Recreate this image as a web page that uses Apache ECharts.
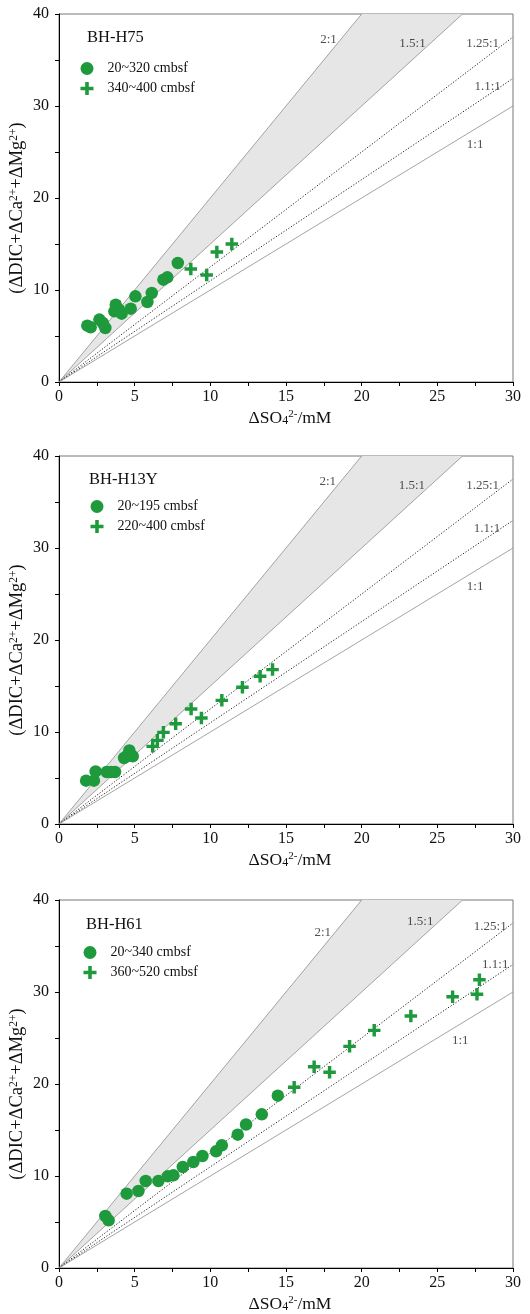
<!DOCTYPE html>
<html><head><meta charset="utf-8">
<script src="https://cdn.jsdelivr.net/npm/echarts@6/dist/echarts.min.js"></script>
<style>html,body{margin:0;padding:0;background:#fff}#c{width:530px;height:1314px}</style>
</head><body><div id="c"></div>
<script>
const panelNames = ['BH-H75', 'BH-H13Y', 'BH-H61'];
const circleNames = ['20~320 cmbsf', '20~195 cmbsf', '20~340 cmbsf'];
const crossNames = ['340~400 cmbsf', '220~400 cmbsf', '360~520 cmbsf'];

const h75Circles = [[1.87,6.12],[2.09,5.94],[2.67,6.78],[2.89,6.41],[3.06,5.87],[3.75,8.4],[3.66,7.68],[3.97,7.86],[4.14,7.43],[4.74,7.97],[5.05,9.31],[5.84,8.7],[6.13,9.67],[6.9,11.12],[7.16,11.38],[7.85,12.93]];
const h75Crosses = [[8.71,12.28],[9.76,11.63],[10.43,14.13],[11.42,15.0]];

const h13yCircles = [[1.79,4.71],[2.31,4.71],[2.42,5.72],[3.15,5.65],[3.44,5.65],[3.7,5.65],[4.3,7.17],[4.47,7.36],[4.65,8.0],[4.87,7.36]];
const h13yCrosses = [[6.19,8.44],[6.5,9.09],[6.9,9.96],[7.71,10.9],[8.73,12.5],[9.41,11.52],[10.76,13.44],[12.12,14.86],[13.29,16.05],[14.11,16.78]];

const h61Circles = [[3.06,5.65],[3.28,5.18],[4.47,8.08],[5.25,8.37],[5.73,9.46],[6.57,9.46],[7.19,9.96],[7.56,10.07],[8.18,10.98],[8.88,11.52],[9.48,12.17],[10.38,12.68],[10.76,13.33],[11.81,14.49],[12.36,15.6],[13.4,16.7],[14.46,18.73]];
const h61Crosses = [[15.54,19.64],[16.86,21.88],[17.88,21.27],[19.2,24.09],[20.83,25.83],[23.25,27.39],[26.01,29.49],[27.62,29.75],[27.78,31.34]];

const ratioNames = ['2:1', '1.5:1', '1.25:1', '1.1:1', '1:1'];
const ratioLineEnds = [[20,40],[26.667,40],[30,37.5],[30,33],[30,30]];
const ratioDotted = [false, false, true, true, false];
const ratioLabelPos = [
  [[17.81,37.2],[23.36,36.74],[27.99,36.74],[28.32,32.07],[27.5,25.8]],
  [[17.76,37.17],[23.32,36.78],[27.99,36.78],[28.28,32.07],[27.5,25.8]],
  [[17.43,36.45],[23.87,37.68],[28.5,37.07],[28.83,32.97],[26.51,24.67]]
];
const xTickLabels = [0,5,10,15,20,25,30];
const yTickLabels = [0,10,20,30,40];

const circleData = [h75Circles, h13yCircles, h61Circles];
const crossData = [h75Crosses, h13yCrosses, h61Crosses];

const GREEN = '#1e9a3c';
const SERIF = '"Liberation Serif","Times New Roman",serif';
const CROSS = 'path://M2.9,0H5.1V2.9H8V5.1H5.1V8H2.9V5.1H0V2.9H2.9Z';

const gridTops = [14, 456, 900];
const titlePos = [[87,29],[89,471],[86,916]];
const legendPos = [[80.5,61.5],[90.5,499.5],[83.5,945.5]];

const grids = [], xAxes = [], yAxes = [], series = [], titles = [], legends = [];
for (let p = 0; p < 3; p++) {
  grids.push({left: 59, top: gridTops[p], width: 454, height: 368, show: true, borderColor: '#777', borderWidth: 1,
    backgroundColor: 'transparent', containLabel: false, outerBoundsMode: 'none'});
  xAxes.push({
    gridIndex: p, type: 'value', min: 0, max: 30, interval: 2.5,
    name: '{n|ΔSO}{sub|4}{sup|2-}{n|/mM}', nameLocation: 'middle', nameGap: 27, nameMoveOverlap: false,
    nameTextStyle: {padding: [0, 0, 0, 8], rich: {
      n: {fontFamily: SERIF, fontSize: 17.5, color: '#111'},
      sub: {fontFamily: SERIF, fontSize: 12, color: '#111', verticalAlign: 'bottom', padding:[6,0,0,0]},
      sup: {fontFamily: SERIF, fontSize: 11, color: '#111', verticalAlign: 'top'}
    }},
    axisLine: {show: true, onZero: false, lineStyle: {color: '#000', width: 1}},
    axisTick: {show: true, length: 4, lineStyle: {color: '#000'}},
    splitLine: {show: false},
    axisLabel: {fontFamily: SERIF, fontSize: 16, color: '#111', margin: 7, showMaxLabel: true, showMinLabel: true,
      formatter: v => xTickLabels.indexOf(v) >= 0 ? String(v) : ''}
  });
  yAxes.push({
    gridIndex: p, type: 'value', min: 0, max: 40, interval: 5,
    name: '{n|(ΔDIC+ΔCa}{s|2+}{n|+ΔMg}{s|2+}{n|)}', nameLocation: 'middle', nameGap: 32, nameMoveOverlap: false,
    nameTextStyle: {padding: [0, 20, 0, 0], rich: {
      n: {fontFamily: SERIF, fontSize: 18.5, color: '#111'},
      s: {fontFamily: SERIF, fontSize: 11.5, color: '#111', verticalAlign: 'top'}
    }},
    axisLine: {show: true, onZero: false, lineStyle: {color: '#000', width: 1}},
    axisTick: {show: true, length: 4, lineStyle: {color: '#000'}},
    splitLine: {show: false},
    axisLabel: {fontFamily: SERIF, fontSize: 16, color: '#111', margin: 10,
      formatter: v => yTickLabels.indexOf(v) >= 0 ? String(v) : ''}
  });
  titles.push({text: panelNames[p], left: titlePos[p][0], top: titlePos[p][1],
    textStyle: {fontFamily: SERIF, fontSize: 16.5, fontWeight: 'normal', color: '#111'}, padding: 0});
  legends.push({
    orient: 'vertical', left: legendPos[p][0], top: legendPos[p][1], padding: 0,
    itemWidth: 13, itemHeight: 13, itemGap: 6,
    textStyle: {fontFamily: SERIF, fontSize: 14, color: '#111', padding: [0,0,0,9]},
    data: [{name: circleNames[p], icon: 'circle'}, {name: crossNames[p], icon: CROSS}]
  });
  series.push({
    type: 'custom', xAxisIndex: p, yAxisIndex: p, silent: true, z: 1,
    data: [[0, 0]],
    renderItem: (params, api) => ({
      type: 'polygon',
      shape: {points: [api.coord([0,0]), api.coord(ratioLineEnds[0]), api.coord(ratioLineEnds[1])]},
      style: {fill: '#e6e6e6', stroke: 'none'}
    })
  });
  for (let r = 0; r < ratioNames.length; r++) {
    series.push({
      type: 'line', xAxisIndex: p, yAxisIndex: p, silent: true, z: 2,
      showSymbol: false, symbol: 'none',
      data: [[0,0], ratioLineEnds[r]],
      lineStyle: ratioDotted[r] ? {color: '#222', width: 1, type: [1.2, 1.8]} : {color: '#9a9a9a', width: 0.9, type: 'solid'}
    });
  }
  series.push({
    type: 'scatter', xAxisIndex: p, yAxisIndex: p, silent: true, z: 3,
    symbolSize: 0,
    data: ratioLabelPos[p].map((c, i) => ({value: c, name: ratioNames[i]})),
    label: {show: true, position: 'inside', formatter: d => d.name, fontFamily: SERIF, fontSize: 13, color: '#222'}
  });
  series.push({
    name: circleNames[p], type: 'scatter', xAxisIndex: p, yAxisIndex: p, z: 5,
    symbol: 'circle', symbolSize: 12.5,
    itemStyle: {color: GREEN, opacity: 1},
    data: circleData[p]
  });
  series.push({
    name: crossNames[p], type: 'scatter', xAxisIndex: p, yAxisIndex: p, z: 5,
    symbol: CROSS, symbolSize: 12.5,
    itemStyle: {color: GREEN, opacity: 1},
    data: crossData[p]
  });
}

const chart = echarts.init(document.getElementById('c'), null, {renderer: 'canvas'});
chart.setOption({
  animation: false,
  backgroundColor: '#fff',
  title: titles, legend: legends,
  grid: grids, xAxis: xAxes, yAxis: yAxes, series: series
});
</script></body></html>
